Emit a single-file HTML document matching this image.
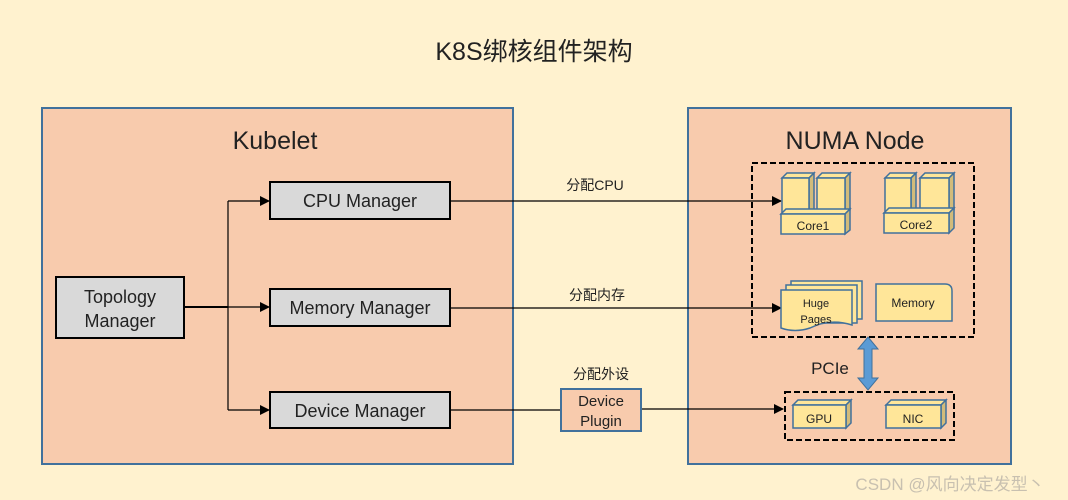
<!DOCTYPE html>
<html><head><meta charset="utf-8"><style>
html,body{margin:0;padding:0;background:#fff2cf;}
svg{display:block;}
text{font-family:"Liberation Sans","Noto Sans CJK SC",sans-serif;fill:#222;}
</style></head><body>
<svg width="1068" height="500" viewBox="0 0 1068 500" xmlns="http://www.w3.org/2000/svg">
<defs>
<marker id="a" markerWidth="10" markerHeight="10" refX="9" refY="5" orient="auto" markerUnits="userSpaceOnUse">
<path d="M0,0 L10,5 L0,10 z" fill="#000"/></marker>
</defs>
<rect width="1068" height="500" fill="#fff2cf"/>
<text x="534" y="60" font-size="25" text-anchor="middle">K8S绑核组件架构</text>

<rect x="42" y="108" width="471" height="356" fill="#f8cbad" stroke="#41719c" stroke-width="2"/>
<text x="275" y="149" font-size="25" text-anchor="middle">Kubelet</text>
<rect x="688" y="108" width="323" height="356" fill="#f8cbad" stroke="#41719c" stroke-width="2"/>
<text x="855" y="149" font-size="25" text-anchor="middle">NUMA Node</text>

<rect x="56" y="277" width="128" height="61" fill="#d9d9d9" stroke="#000" stroke-width="2"/>
<text x="120" y="303" font-size="18" text-anchor="middle">Topology</text>
<text x="120" y="327" font-size="18" text-anchor="middle">Manager</text>

<rect x="270" y="182" width="180" height="37" fill="#d9d9d9" stroke="#000" stroke-width="2"/>
<text x="360" y="207" font-size="18" text-anchor="middle">CPU Manager</text>
<rect x="270" y="289" width="180" height="37" fill="#d9d9d9" stroke="#000" stroke-width="2"/>
<text x="360" y="314" font-size="18" text-anchor="middle">Memory Manager</text>
<rect x="270" y="392" width="180" height="36" fill="#d9d9d9" stroke="#000" stroke-width="2"/>
<text x="360" y="417" font-size="18" text-anchor="middle">Device Manager</text>

<g stroke="#000" stroke-width="1.2" fill="none">
<line x1="184" y1="307" x2="228" y2="307" stroke-width="2"/>
<polyline points="228,201 228,410"/>
<line x1="228" y1="201" x2="269" y2="201" marker-end="url(#a)"/>
<line x1="228" y1="307" x2="269" y2="307" marker-end="url(#a)"/>
<line x1="228" y1="410" x2="269" y2="410" marker-end="url(#a)"/>
<line x1="450" y1="201" x2="781" y2="201" marker-end="url(#a)"/>
<line x1="450" y1="308" x2="781" y2="308" marker-end="url(#a)"/>
<line x1="450" y1="410" x2="561" y2="410"/>
<line x1="641" y1="409" x2="783" y2="409" marker-end="url(#a)"/>
</g>
<text x="595" y="190" font-size="14" text-anchor="middle">分配CPU</text>
<text x="597" y="300" font-size="14" text-anchor="middle">分配内存</text>
<text x="601" y="379" font-size="14" text-anchor="middle">分配外设</text>

<rect x="561" y="389" width="80" height="42" fill="#f8cbad" stroke="#41719c" stroke-width="2"/>
<text x="601" y="406" font-size="15" text-anchor="middle">Device</text>
<text x="601" y="426" font-size="15" text-anchor="middle">Plugin</text>

<rect x="752" y="163" width="222" height="174" fill="none" stroke="#000" stroke-width="2" stroke-dasharray="6,3"/>
<rect x="785" y="392" width="169" height="48" fill="none" stroke="#000" stroke-width="2" stroke-dasharray="6,3"/>

<g stroke="#41719c" stroke-width="1.5">
<!-- core1 -->
<polygon points="782,178 787,173 814,173 809,178" fill="#ffe699"/>
<polygon points="809,178 814,173 814,210 809,215" fill="#d2bb7a"/>
<rect x="782" y="178" width="27" height="37" fill="#ffe699"/>
<polygon points="817,178 822,173 850,173 845,178" fill="#ffe699"/>
<polygon points="845,178 850,173 850,210 845,215" fill="#d2bb7a"/>
<rect x="817" y="178" width="28" height="37" fill="#ffe699"/>
<polygon points="781,214 786,209 850,209 845,214" fill="#ffe699"/>
<polygon points="845,214 850,209 850,230 845,234" fill="#d2bb7a"/>
<rect x="781" y="214" width="64" height="20" fill="#ffe699"/>
<!-- core2 -->
<polygon points="885,178 890,173 916,173 911,178" fill="#ffe699"/>
<polygon points="911,178 916,173 916,210 911,215" fill="#d2bb7a"/>
<rect x="885" y="178" width="26" height="37" fill="#ffe699"/>
<polygon points="920,178 925,173 954,173 949,178" fill="#ffe699"/>
<polygon points="949,178 954,173 954,210 949,215" fill="#d2bb7a"/>
<rect x="920" y="178" width="29" height="37" fill="#ffe699"/>
<polygon points="884,213 889,208 954,208 949,213" fill="#ffe699"/>
<polygon points="949,213 954,208 954,228 949,233" fill="#d2bb7a"/>
<rect x="884" y="213" width="65" height="20" fill="#ffe699"/>
<!-- huge pages -->
<rect x="791" y="281" width="71" height="38" fill="#ffe699"/>
<rect x="786" y="285" width="71" height="38" fill="#ffe699"/>
<path d="M781,290 H852 V325 Q830,318 810,328 Q795,333 781,328 Z" fill="#ffe699"/>
<!-- memory -->
<path d="M876,284 H945 Q952,284 952,291 V321 H876 Z" fill="#ffe699"/>
<!-- GPU NIC -->
<polygon points="793,405 798,400 851,400 846,405" fill="#ffe699"/>
<polygon points="846,405 851,400 851,423 846,428" fill="#d2bb7a"/>
<rect x="793" y="405" width="53" height="23" fill="#ffe699"/>
<polygon points="886,405 891,400 946,400 941,405" fill="#ffe699"/>
<polygon points="941,405 946,400 946,423 941,428" fill="#d2bb7a"/>
<rect x="886" y="405" width="55" height="23" fill="#ffe699"/>
</g>
<text x="813" y="230" font-size="12" text-anchor="middle">Core1</text>
<text x="916" y="229" font-size="12" text-anchor="middle">Core2</text>
<text x="816" y="307" font-size="11" text-anchor="middle">Huge</text>
<text x="816" y="323" font-size="11" text-anchor="middle">Pages</text>
<text x="913" y="307" font-size="12" text-anchor="middle">Memory</text>
<text x="819" y="423" font-size="12" text-anchor="middle">GPU</text>
<text x="913" y="423" font-size="12" text-anchor="middle">NIC</text>

<!-- PCIe arrow -->
<path d="M868,337 L878,349 L872,349 L872,378 L878,378 L868,390 L858,378 L864,378 L864,349 L858,349 Z" fill="#5b9bd5" stroke="#41719c" stroke-width="1"/>
<text x="830" y="374" font-size="17" text-anchor="middle">PCIe</text>

<text x="950" y="490" font-size="17" text-anchor="middle" style="fill:#c8c0b0">CSDN @风向决定发型丶</text>
</svg>
</body></html>
